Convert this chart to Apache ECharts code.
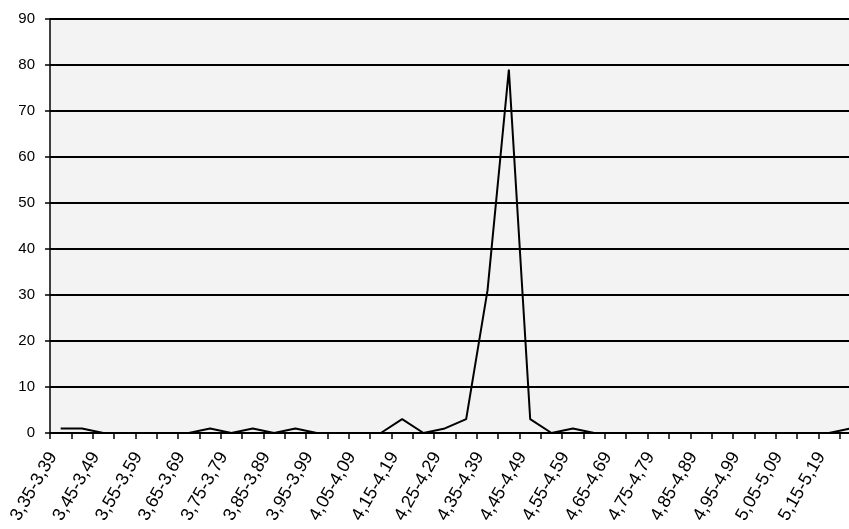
<!DOCTYPE html>
<html>
<head>
<meta charset="utf-8">
<script src="https://cdn.jsdelivr.net/npm/echarts@6/dist/echarts.min.js"></script>
<style>
html,body{margin:0;padding:0;background:#fff;overflow:hidden;width:849px;height:529px;}
#chart{width:880px;height:529px;}
</style>
</head>
<body>
<div id="chart"></div>
<script>
const categories = [
  "3,35-3,39","3,40-3,44","3,45-3,49","3,50-3,54","3,55-3,59","3,60-3,64",
  "3,65-3,69","3,70-3,74","3,75-3,79","3,80-3,84","3,85-3,89","3,90-3,94",
  "3,95-3,99","4,00-4,04","4,05-4,09","4,10-4,14","4,15-4,19","4,20-4,24",
  "4,25-4,29","4,30-4,34","4,35-4,39","4,40-4,44","4,45-4,49","4,50-4,54",
  "4,55-4,59","4,60-4,64","4,65-4,69","4,70-4,74","4,75-4,79","4,80-4,84",
  "4,85-4,89","4,90-4,94","4,95-4,99","5,00-5,04","5,05-5,09","5,10-5,14",
  "5,15-5,19","5,20-5,24"
];
const counts = [
  1,1,0,0,0,0,0,1,0,1,0,1,0,0,0,0,3,0,1,3,31,79,3,0,1,0,
  0,0,0,0,0,0,0,0,0,0,0,1
];
const yMin = 0, yMax = 90, yStep = 10;

const font = '"Liberation Sans", Arial, sans-serif';
const chart = echarts.init(document.getElementById('chart'), null, {renderer:'canvas'});
chart.setOption({
  animation: false,
  backgroundColor: '#ffffff',
  grid: {
    left: 50, top: 19, width: 811, height: 414,
    containLabel: false,
    outerBoundsMode: 'none',
    show: true, backgroundColor: '#f3f3f3', borderWidth: 0
  },
  xAxis: {
    type: 'category',
    data: categories,
    boundaryGap: true,
    axisLine: {lineStyle: {color: '#000', width: 2}},
    axisTick: {show: true, interval: 0, length: 6, lineStyle: {color: '#000', width: 1.5}},
    axisLabel: {
      interval: 1, rotate: 60, margin: 25, lineHeight: 18,
      formatter: function (v) { return v + '\n '; },
      color: '#000', fontFamily: font, fontSize: 18
    },
    splitLine: {show: false}
  },
  yAxis: {
    type: 'value',
    min: yMin, max: yMax, interval: yStep,
    axisLine: {show: true, lineStyle: {color: '#000', width: 1.5}},
    axisTick: {show: true, length: 5, lineStyle: {color: '#000', width: 1.5}},
    axisLabel: {color: '#000', fontFamily: font, fontSize: 15, margin: 15},
    splitLine: {show: true, lineStyle: {color: '#000', width: 2}}
  },
  series: [{
    type: 'line',
    data: counts,
    symbol: 'none',
    clip: false,
    lineStyle: {color: '#000', width: 2},
    z: 3
  }]
});
</script>
</body>
</html>
